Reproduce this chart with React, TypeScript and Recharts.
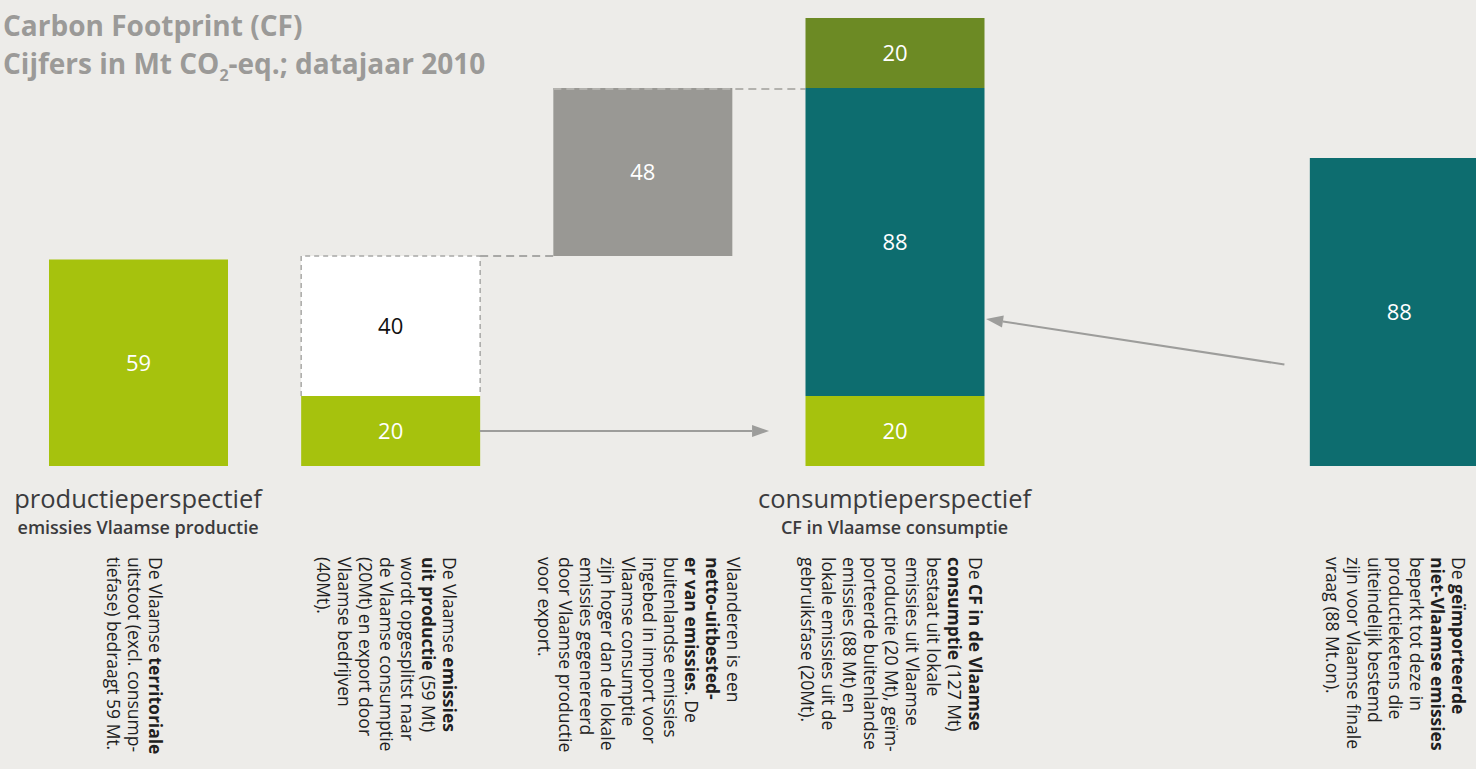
import React from 'react';
import { BarChart, Bar, XAxis, YAxis, LabelList, ReferenceLine } from 'recharts';

// categories (one empty slot between consumptie and import)
const categories = ['productie', 'export', 'netto', 'consumptie', 'leeg', 'import'];

// Mt CO2-eq., 2010
const baseValues = [null, null, 60, null, null, null]; // invisible offset for the floating bar
const limeValues = [59, 20, null, 20, null, null];
const whiteValues = [null, 40, null, null, null, null];
const grayValues = [null, null, 48, null, null, null];
const tealValues = [null, null, null, 88, null, 88];
const oliveValues = [null, null, null, 20, null, null];

const titles = ['productieperspectief', '', '', 'consumptieperspectief', '', ''];
const subtitles = ['emissies Vlaamse productie', '', '', 'CF in Vlaamse consumptie', '', ''];

// *...* = bold
const notes: string[][] = [
  ['De Vlaamse *territoriale*', 'uitstoot (excl. consump-', 'tiefase) bedraagt 59 Mt.'],
  ['De Vlaamse *emissies*', '*uit productie* (59 Mt)', 'wordt opgesplitst naar', 'de Vlaamse consumptie', '(20Mt) en export door', 'Vlaamse bedrijven', '(40Mt).'],
  ['Vlaanderen is een', '*netto-uitbested-*', '*er van emissies*. De', 'buitenlandse emissies', 'ingebed in import voor', 'Vlaamse consumptie', 'zijn hoger dan de lokale', 'emissies gegenereerd', 'door Vlaamse productie', 'voor export.'],
  ['De *CF in de Vlaamse*', '*consumptie* (127 Mt)', 'bestaat uit lokale', 'emissies uit Vlaamse', 'productie (20 Mt), geïm-', 'porteerde buitenlandse', 'emissies (88 Mt) en', 'lokale emissies uit de', 'gebruiksfase (20Mt).'],
  [],
  ['De *geïmporteerde*', '*niet-Vlaamse emissies*', 'beperkt tot deze in', 'productieketens die', 'uiteindelijk bestemd', 'zijn voor Vlaamse finale', 'vraag (88 Mt.on).'],
];

// arrow anchors (category, value)
const exportArrow = [{ x: 'export', y: 10 }, { x: 'consumptie', y: 10 }];
const importArrow = [{ x: 'import', y: 24 }, { x: 'consumptie', y: 46 }];

const data = categories.map((c, i) => ({
  name: c,
  base: baseValues[i],
  lime: limeValues[i],
  white: whiteValues[i],
  gray: grayValues[i],
  teal: tealValues[i],
  olive: oliveValues[i],
}));

const FONT = '"Open Sans", "Noto Sans", sans-serif';
const CHART_W = 1530;
const MARGIN_L = 12;
const MARGIN_R = 5;
const BAR = 179;
const GAP = (CHART_W - MARGIN_L - MARGIN_R) / categories.length - BAR;
const DASH = '#a8a8a6';

const fmt = (v: any) => (v == null || v === 0 ? '' : v);

const WhiteBox = (p: any) => {
  const { x, y, width, height } = p;
  if (!height || height <= 0) return null;
  return (
    <g>
      <rect x={x} y={y} width={width} height={height} fill="#ffffff" />
      <path d={`M${x},${y + height} V${y} H${x + width} V${y + height}`} fill="none" stroke={DASH} strokeWidth={1.5} strokeDasharray="5 4" />
      <line x1={x + width} y1={y} x2={x + width + GAP} y2={y} stroke={DASH} strokeWidth={2} strokeDasharray="8 5" />
    </g>
  );
};

const GrayBox = (p: any) => {
  const { x, y, width, height, fill } = p;
  if (!height || height <= 0) return null;
  return (
    <g>
      <rect x={x} y={y} width={width} height={height} fill={fill} />
      <line x1={x} y1={y + 1} x2={x + width + GAP} y2={y + 1} stroke="#b3b2ae" strokeWidth={2} strokeDasharray="8 5" />
    </g>
  );
};

const arrowShape = (startInset: number, endInset: number) => (p: any) => {
  const { x1, y1, x2, y2 } = p;
  if (x1 == null || x2 == null) return null;
  const dir = Math.sign(x2 - x1);
  const sx = x1 + dir * startInset;
  const ex = x2 - dir * endInset;
  const yAt = (x: number) => y1 + ((y2 - y1) * (x - x1)) / (x2 - x1);
  const sy = yAt(sx);
  const ey = yAt(ex);
  const ang = Math.atan2(ey - sy, ex - sx);
  const L = 17;
  const W = 6;
  const bx = ex - L * Math.cos(ang);
  const by = ey - L * Math.sin(ang);
  const px = -Math.sin(ang) * W;
  const py = Math.cos(ang) * W;
  return (
    <g>
      <line x1={sx} y1={sy} x2={bx} y2={by} stroke="#9d9d9b" strokeWidth={2} />
      <polygon points={`${ex},${ey} ${bx + px},${by + py} ${bx - px},${by - py}`} fill="#9d9d9b" />
    </g>
  );
};

const renderLine = (line: string) =>
  line.split('*').map((part, k) => (
    <tspan key={k} fontWeight={k % 2 === 1 ? 700 : 400}>{part}</tspan>
  ));

const CategoryTick = (p: any) => {
  const { x, y, payload } = p;
  const i = categories.indexOf(payload.value);
  const lines = notes[i] || [];
  const lh = 21;
  const n = lines.length;
  const top = y + 91;
  return (
    <g fontFamily={FONT}>
      {titles[i] && (
        <text x={x} y={y + 42} textAnchor="middle" fontSize={25.5} fill="#3b3b3d">{titles[i]}</text>
      )}
      {subtitles[i] && (
        <text x={x} y={y + 68} textAnchor="middle" fontSize={18} fontWeight={600} fill="#3b3b3d">{subtitles[i]}</text>
      )}
      {lines.map((ln, k) => {
        const cx = x - 4 + ((n - 1) / 2) * lh - k * lh - 6;
        return (
          <text key={k} x={cx} y={top} transform={`rotate(90, ${cx}, ${top})`} fontSize={17.5} fill="#202020">
            {renderLine(ln)}
          </text>
        );
      })}
    </g>
  );
};

const labelStyle = { fontFamily: FONT, fontSize: 22 };

export default function App() {
  return (
    <div style={{ position: 'fixed', left: 0, top: 0, width: 1476, height: 769, overflow: 'hidden', background: '#edece9' }}>
      <div style={{ position: 'absolute', left: 0, top: 0 }}>
        <BarChart width={CHART_W} height={769} data={data} margin={{ top: 11, right: MARGIN_R, bottom: 0, left: MARGIN_L }}>
          <XAxis dataKey="name" axisLine={false} tickLine={false} tickSize={0} tickMargin={0} height={303} interval={0} tick={<CategoryTick />} />
          <YAxis hide domain={[0, 130]} />
          <Bar dataKey="base" stackId="a" fill="transparent" barSize={BAR} isAnimationActive={false} />
          <Bar dataKey="lime" stackId="a" fill="#a6c20d" barSize={BAR} isAnimationActive={false}>
            <LabelList dataKey="lime" position="center" fill="#ffffff" formatter={fmt} style={labelStyle} />
          </Bar>
          <Bar dataKey="white" stackId="a" fill="#ffffff" barSize={BAR} shape={<WhiteBox />} isAnimationActive={false}>
            <LabelList dataKey="white" position="center" fill="#111111" formatter={fmt} style={labelStyle} />
          </Bar>
          <Bar dataKey="gray" stackId="a" fill="#999894" barSize={BAR} shape={<GrayBox />} isAnimationActive={false}>
            <LabelList dataKey="gray" position="center" fill="#ffffff" formatter={fmt} style={labelStyle} />
          </Bar>
          <Bar dataKey="teal" stackId="a" fill="#0d6d6f" barSize={BAR} isAnimationActive={false}>
            <LabelList dataKey="teal" position="center" fill="#ffffff" formatter={fmt} style={labelStyle} />
          </Bar>
          <Bar dataKey="olive" stackId="a" fill="#6c8a24" barSize={BAR} isAnimationActive={false}>
            <LabelList dataKey="olive" position="center" fill="#ffffff" formatter={fmt} style={labelStyle} />
          </Bar>
          <ReferenceLine segment={exportArrow} shape={arrowShape(BAR / 2, BAR / 2 + 36)} />
          <ReferenceLine segment={importArrow} shape={arrowShape(BAR / 2 + 25, BAR / 2 + 2)} />
        </BarChart>
      </div>
      <div style={{ position: 'absolute', left: 3, top: 6, fontFamily: FONT, fontSize: 28, fontWeight: 700, color: '#9b9a98', lineHeight: '38px', whiteSpace: 'nowrap' }}>
        <div>Carbon Footprint (CF)</div>
        <div>
          Cijfers in Mt CO<sub style={{ fontSize: 16, verticalAlign: 'sub', lineHeight: 0 }}>2</sub>-eq.; datajaar 2010
        </div>
      </div>
    </div>
  );
}
